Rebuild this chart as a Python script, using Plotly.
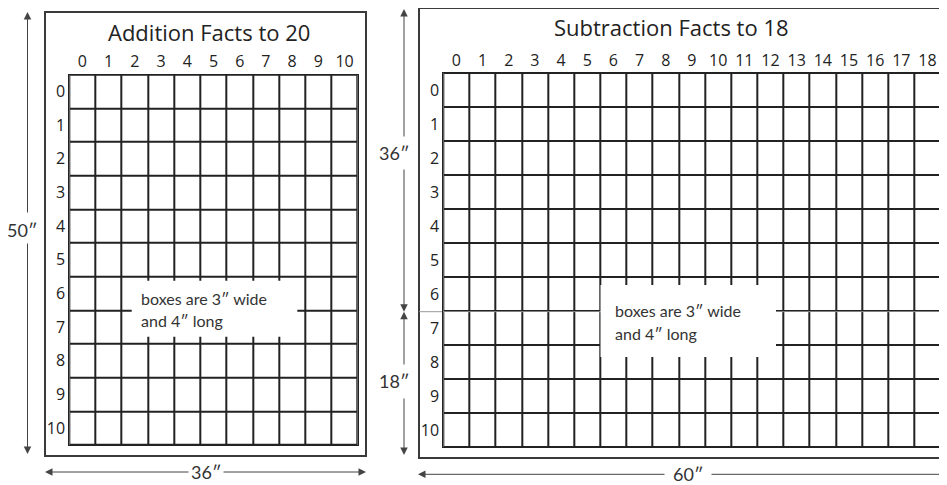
import plotly.graph_objects as go

# ---------------- data ----------------
add_title = "Addition Facts to 20"
add_cols = list(range(0, 11))
add_rows = list(range(0, 11))
sub_title = "Subtraction Facts to 18"
sub_cols = list(range(0, 19))
sub_rows = list(range(0, 11))
note_lines = ["boxes are 3″ wide", "and 4″ long"]
add_height_label = "50″"
add_width_label = "36″"
sub_top_label = "36″"
sub_bottom_label = "18″"
sub_width_label = "60″"

W, H = 947, 485
OFF = 8  # the page body margin shifts the figure by 8px


def px(x):
    return (x - OFF) / W


def py(y):
    return 1 - (y - OFF) / H


HAND = "Open Sans, Noto Sans, sans-serif"
GEO = "Lato, DejaVu Sans, sans-serif"
INK = "#222222"
GREY = "#444444"

fig = go.Figure()

# grids as blank heatmap cells (gaps show the dark plot background as lines)
fig.add_trace(go.Heatmap(
    z=[[0] * len(add_cols) for _ in add_rows], x=add_cols, y=add_rows,
    colorscale=[[0, "white"], [1, "white"]], showscale=False,
    xgap=2, ygap=2, hoverinfo="skip", xaxis="x", yaxis="y"))
fig.add_trace(go.Heatmap(
    z=[[0] * len(sub_cols) for _ in sub_rows], x=sub_cols, y=sub_rows,
    colorscale=[[0, "white"], [1, "white"]], showscale=False,
    xgap=2, ygap=2, hoverinfo="skip", xaxis="x2", yaxis="y2"))

axis_common = dict(showgrid=False, zeroline=False, showline=True, mirror=True,
                   linewidth=1, linecolor=INK, ticks="", fixedrange=True,
                   tickfont=dict(family=HAND, size=16, color=INK))

# grid boxes (pixels in the window)
A = dict(x0=69.3, x1=357.7, y0=74.7, y1=445.0)
S = dict(x0=443.3, x1=940.6, y0=73.0, y1=447.0)

fig.update_layout(
    width=W, height=H, margin=dict(l=0, r=0, t=0, b=0),
    paper_bgcolor="white", plot_bgcolor=INK, showlegend=False,
    xaxis=dict(axis_common, domain=[px(A["x0"]), px(A["x1"])], anchor="y",
               range=[-0.5, len(add_cols) - 0.5], side="top",
               tickvals=add_cols, ticktext=[str(c) for c in add_cols]),
    yaxis=dict(axis_common, domain=[py(A["y1"]), py(A["y0"])], anchor="x",
               range=[len(add_rows) - 0.5, -0.5],
               tickvals=add_rows, ticktext=[str(r) for r in add_rows]),
    xaxis2=dict(axis_common, domain=[px(S["x0"]), px(S["x1"])], anchor="y2",
                range=[-0.5, len(sub_cols) - 0.5], side="top",
                tickvals=sub_cols, ticktext=[str(c) for c in sub_cols]),
    yaxis2=dict(axis_common, domain=[py(S["y1"]), py(S["y0"])], anchor="x2",
                range=[len(sub_rows) - 0.5, -0.5],
                tickvals=sub_rows, ticktext=[str(r) for r in sub_rows]),
)

shapes = []
# outer poster frames
shapes.append(dict(type="rect", xref="paper", yref="paper",
                   x0=px(45), x1=px(366), y0=py(456), y1=py(12),
                   line=dict(color="#3a3a3a", width=2), layer="below"))
shapes.append(dict(type="rect", xref="paper", yref="paper",
                   x0=px(419), x1=px(985), y0=py(458), y1=py(8),
                   line=dict(color="#3a3a3a", width=2), layer="below"))
# fold line on subtraction poster
shapes.append(dict(type="line", xref="paper", yref="paper",
                   x0=px(419), x1=px(960), y0=py(311.7), y1=py(311.7),
                   line=dict(color="#999999", width=1), layer="below"))
# white note boxes
shapes.append(dict(type="rect", xref="paper", yref="paper",
                   x0=px(131.7), x1=px(297.3), y0=py(336.7), y1=py(280.7),
                   fillcolor="white", line=dict(width=0), layer="above"))
shapes.append(dict(type="rect", xref="paper", yref="paper",
                   x0=px(600.5), x1=px(776), y0=py(357), y1=py(285),
                   fillcolor="white", line=dict(width=0), layer="above"))
fig.update_layout(shapes=shapes)

ann = []


def text(x, y, s, size, family, color=INK, xanchor="center"):
    ann.append(dict(xref="paper", yref="paper", x=px(x), y=py(y), text=s,
                    showarrow=False, xanchor=xanchor, yanchor="middle",
                    font=dict(family=family, size=size, color=color)))


def arrow(tip, tail, head=2):
    ann.append(dict(xref="paper", yref="paper", x=px(tip[0]), y=py(tip[1]),
                    axref="pixel", ayref="pixel",
                    ax=tail[0] - tip[0], ay=tail[1] - tip[1], text="",
                    showarrow=True, arrowhead=head, arrowsize=1.5,
                    arrowwidth=1, arrowcolor=GREY))


# titles
text((A["x0"] + A["x1"]) / 2 - 5, 32, add_title, 22, HAND)
text((S["x0"] + S["x1"]) / 2 - 20, 27, sub_title, 22, HAND)

# note texts
text(139, 298, note_lines[0], 16, GEO, color="#333333", xanchor="left")
text(139, 320, note_lines[1], 16, GEO, color="#333333", xanchor="left")
text(613, 310, note_lines[0], 16, GEO, color="#333333", xanchor="left")
text(613, 333, note_lines[1], 16, GEO, color="#333333", xanchor="left")

# addition poster dimensions
arrow((27.5, 12), (27.5, 214))
arrow((27.5, 454), (27.5, 242))
text(22, 230, add_height_label, 18, GEO, color="#333333")
arrow((45, 472), (190, 472))
arrow((366, 472), (222, 472))
text(206, 472, add_width_label, 18, GEO, color="#333333")

# subtraction poster dimensions
arrow((404, 7), (404, 138))
arrow((404, 311.7), (404, 168))
text(394, 153, sub_top_label, 18, GEO, color="#333333")
arrow((404, 311.7), (404, 366))
arrow((404, 455), (404, 397))
text(394, 381, sub_bottom_label, 18, GEO, color="#333333")
arrow((418, 474.3), (666, 474.3))
arrow((960, 474.3), (710, 474.3), head=0)
text(688, 474.3, sub_width_label, 18, GEO, color="#333333")

fig.update_layout(annotations=ann)

fig.write_html("out.html")
